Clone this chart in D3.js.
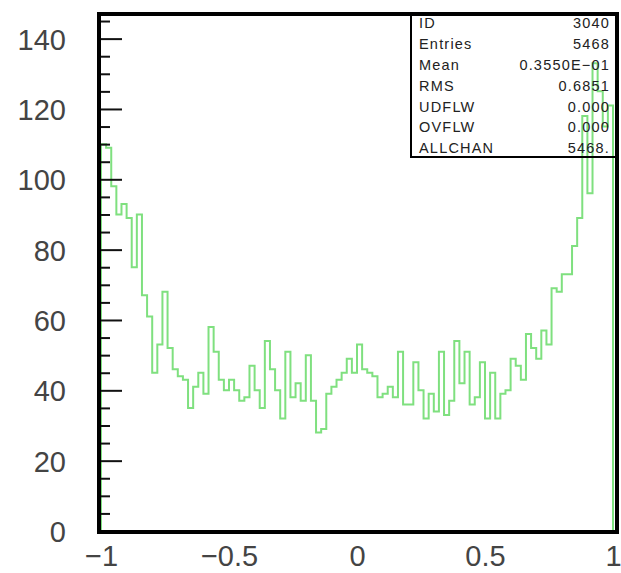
<!DOCTYPE html>
<html>
<head>
<meta charset="utf-8">
<script src="https://cdn.jsdelivr.net/npm/d3@7"></script>
<style>
  html, body { margin: 0; padding: 0; background: #fff; }
  svg { display: block; }
</style>
</head>
<body>
<svg id="hist" width="621" height="573"></svg>
<script>
// histogram 3040, 100 bins from -1 to 1
var xMin = -1, xMax = 1;
var counts = [
  110, 109, 98, 90, 93, 89, 75, 90, 67, 61, 45, 53, 68,
  52, 46, 44, 43, 35, 41, 45, 39, 58, 51, 43, 40, 43,
  40, 37, 38, 47, 40, 35, 54, 46, 40, 32, 51,
  38, 42, 37, 50, 37, 28, 29, 39, 41, 43, 45, 49, 45, 53,
  46, 45, 44, 38, 39, 41, 38, 51, 36, 36, 48,
  40, 32, 39, 34, 51, 33, 37, 54, 42, 51, 36, 38, 48, 32, 45, 32,
  39, 40, 49, 47, 43, 56, 52, 49, 57, 53, 69, 68, 73, 73, 81, 89,
  118, 96, 133, 125, 115, 121
];
var xTickValues = [-1, -0.5, 0, 0.5, 1];
var xTickLabels = ["\u22121", "\u22120.5", "0", "0.5", "1"];
var yMajorTicks = [0, 20, 40, 60, 80, 100, 120, 140];
var yMinorStep = 5;
var yTop = 147;

var statNames = ["ID", "Entries", "Mean", "RMS", "UDFLW", "OVFLW", "ALLCHAN"];
var statValues = ["3040", "5468", "0.3550E\u221201", "0.6851", "0.000", "0.000", "5468."];

var frame = {left: 99, right: 617, top: 14, bottom: 532};

var xScale = d3.scaleLinear().domain([xMin, xMax]).range([101, 613]);
var yScale = d3.scaleLinear().domain([0, yTop]).range([531, frame.top]);

var svg = d3.select("#hist");

//////////////////////////// HISTOGRAM ////////////////////////////
var binWidth = (xMax - xMin) / counts.length;
var pts = [[xMin, 0]];
counts.forEach(function(c, i) { pts.push([xMin + i * binWidth, c]); });
pts.push([xMax, counts[counts.length - 1]]);
pts.push([xMax, 0]);

var line = d3.line()
  .x(function(d) { return xScale(d[0]); })
  .y(function(d) { return yScale(d[1]); })
  .curve(d3.curveStepAfter);

svg.append("path")
  .datum(pts)
  .attr("d", line)
  .attr("fill", "none")
  .attr("stroke", "#7fe07f")
  .attr("stroke-width", 2);

//////////////////////////// AXES ////////////////////////////
var minorTicks = d3.range(0, yTop, yMinorStep).filter(function(v) { return v % 20 != 0; });

svg.append("g")
  .attr("transform", "translate(" + frame.left + ",0)")
  .call(d3.axisRight(yScale).tickValues(minorTicks).tickSize(11).tickFormat(""))
  .call(function(g) { g.select(".domain").remove(); })
  .selectAll("line").attr("stroke", "#111").attr("stroke-width", 2);

svg.append("g")
  .attr("transform", "translate(" + frame.left + ",0)")
  .call(d3.axisRight(yScale).tickValues(yMajorTicks).tickSize(23).tickFormat(""))
  .call(function(g) { g.select(".domain").remove(); })
  .selectAll("line").attr("stroke", "#111").attr("stroke-width", 2);

var yLab = svg.append("g")
  .attr("transform", "translate(66,0)")
  .call(d3.axisLeft(yScale).tickValues(yMajorTicks).tickSize(0).tickPadding(0))
  .call(function(g) { g.select(".domain").remove(); });
yLab.selectAll("text")
  .attr("font-family", "Liberation Sans, Arial, sans-serif")
  .attr("font-size", 29)
  .attr("fill", "#444")
  .attr("dy", "0.36em");

var xLab = svg.append("g")
  .attr("transform", "translate(0," + (frame.bottom + 8) + ")")
  .call(d3.axisBottom(xScale).tickValues(xTickValues).tickSize(0).tickPadding(0)
    .tickFormat(function(d, i) { return xTickLabels[i]; }))
  .call(function(g) { g.select(".domain").remove(); });
xLab.selectAll("text")
  .attr("font-family", "Liberation Sans, Arial, sans-serif")
  .attr("font-size", 29)
  .attr("fill", "#444")
  .attr("dy", "0.9em");

// frame
svg.append("rect")
  .attr("x", frame.left).attr("y", frame.top)
  .attr("width", frame.right - frame.left).attr("height", frame.bottom - frame.top)
  .attr("fill", "none").attr("stroke", "#000").attr("stroke-width", 4);

//////////////////////////// STATS BOX ////////////////////////////
var box = {left: 411, right: frame.right, top: frame.top, bottom: 157};
var rowY = d3.scaleLinear().domain([0, statNames.length - 1]).range([23, 148]);

svg.append("rect")
  .attr("x", box.left).attr("y", box.top)
  .attr("width", box.right - box.left).attr("height", box.bottom - box.top)
  .attr("fill", "none").attr("stroke", "#000").attr("stroke-width", 2);

var rows = svg.append("g").selectAll("g")
  .data(statNames)
  .enter().append("g")
  .attr("transform", function(d, i) { return "translate(0," + rowY(i) + ")"; });

rows.append("text")
  .attr("x", box.left + 8)
  .attr("dy", "0.36em")
  .attr("font-family", "Liberation Sans, Arial, sans-serif")
  .attr("font-size", 14.5)
  .attr("letter-spacing", 1.2)
  .attr("fill", "#222")
  .text(function(d) { return d; });

rows.append("text")
  .attr("x", box.right - 7)
  .attr("dy", "0.36em")
  .attr("text-anchor", "end")
  .attr("font-family", "Liberation Sans, Arial, sans-serif")
  .attr("font-size", 14.5)
  .attr("letter-spacing", 1.2)
  .attr("fill", "#222")
  .text(function(d, i) { return statValues[i]; });
</script>
</body>
</html>
